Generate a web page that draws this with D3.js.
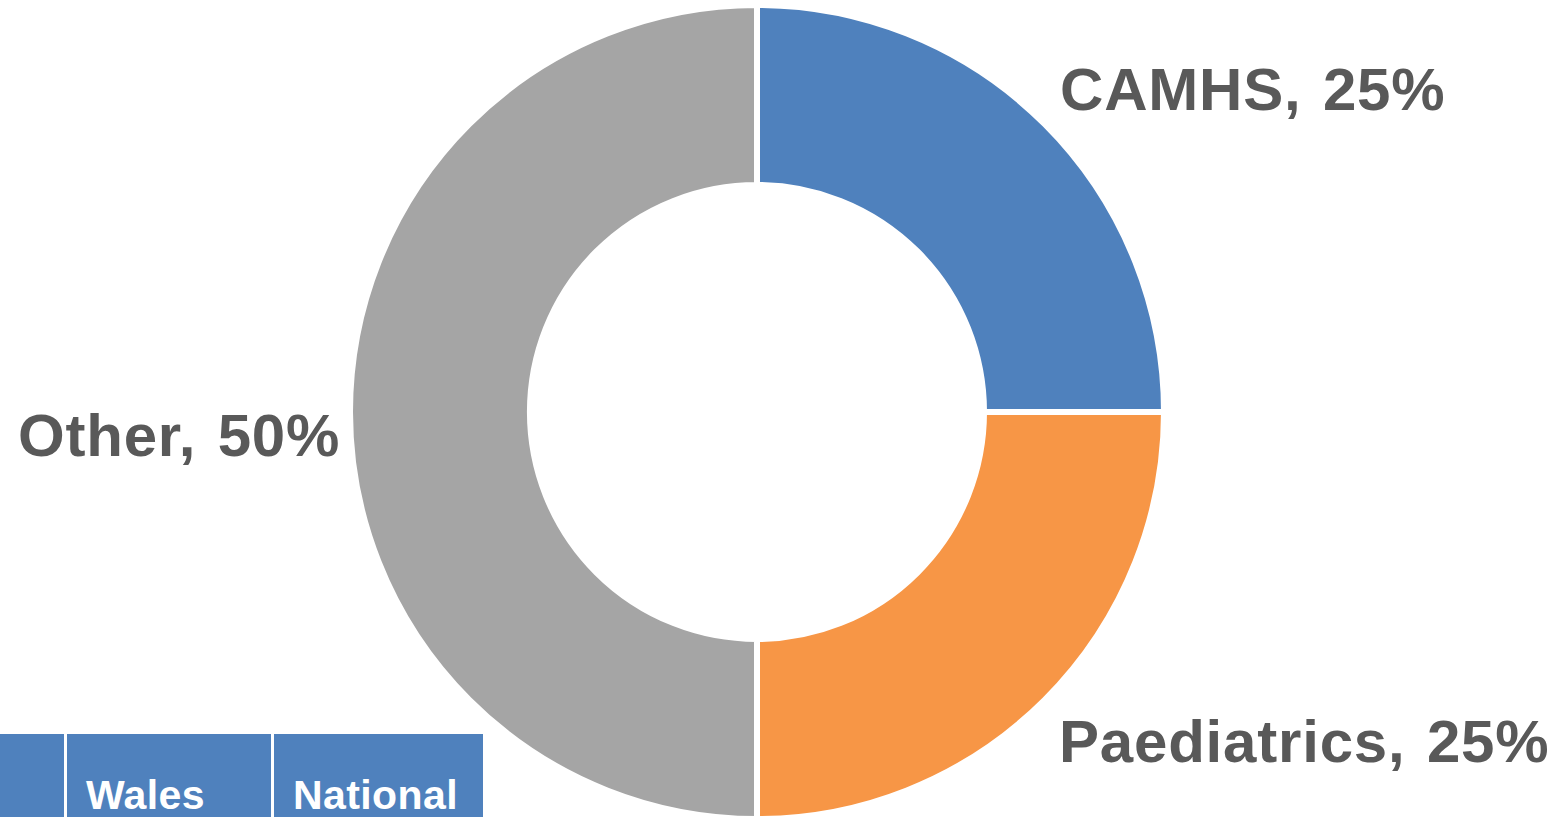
<!DOCTYPE html>
<html>
<head>
<meta charset="utf-8">
<script src="https://cdn.jsdelivr.net/npm/d3@7"></script>
<style>
  html, body { margin: 0; padding: 0; background: #fff; overflow: hidden; }
  svg { display: block; }
</style>
</head>
<body>
<svg id="chart" width="1562" height="817"></svg>
<script>
// Referral share by service
const categories = ["CAMHS", "Paediatrics", "Other"];
const shares = [25, 25, 50];
const sliceColors = ["#4F81BD", "#F79646", "#A5A5A5"];

// Header row of the comparison table below the chart
const tableHeaders = ["", "Wales", "National"];

const svg = d3.select("#chart");
const W = 1562, H = 817;

// Table header strip (partly cropped by the bottom edge)
const colScale = d3.scaleOrdinal()
  .domain(tableHeaders.map((d, i) => i))
  .range([[0, 64], [67, 271], [274, 483]]);

const header = svg.append("g").attr("class", "table-header");
header.selectAll("rect")
  .data(tableHeaders)
  .join("rect")
  .attr("x", (d, i) => colScale(i)[0])
  .attr("y", 734)
  .attr("width", (d, i) => colScale(i)[1] - colScale(i)[0])
  .attr("height", H - 734)
  .attr("fill", "#4F81BD");
header.selectAll("text")
  .data(tableHeaders)
  .join("text")
  .attr("x", (d, i) => colScale(i)[0] + 19)
  .attr("y", 809)
  .attr("fill", "#fff")
  .attr("font-family", "'Liberation Sans', Arial, sans-serif")
  .attr("font-weight", "bold")
  .attr("font-size", 41)
  .attr("letter-spacing", 0.4)
  .text(d => d);

// Doughnut
const cx = 757, cy = 412;
const pie = d3.pie().sort(null).value(d => d.value);
const arc = d3.arc().innerRadius(227).outerRadius(407);
const data = categories.map((c, i) => ({ name: c, value: shares[i], color: sliceColors[i] }));

const g = svg.append("g").attr("transform", `translate(${cx},${cy})`);
g.selectAll("path")
  .data(pie(data))
  .join("path")
  .attr("d", arc)
  .attr("fill", d => d.data.color)
  .attr("stroke", "#fff")
  .attr("stroke-width", 6)
  .attr("stroke-linejoin", "miter");

// Data labels
const labelPos = {
  CAMHS: { x: 1060, y: 110 },
  Paediatrics: { x: 1059, y: 762 },
  Other: { x: 18, y: 456 }
};
svg.append("g").selectAll("text")
  .data(data)
  .join("text")
  .attr("x", d => labelPos[d.name].x)
  .attr("y", d => labelPos[d.name].y)
  .attr("fill", "#595959")
  .attr("font-family", "'Liberation Sans', Arial, sans-serif")
  .attr("font-weight", "bold")
  .attr("font-size", 60)
  .attr("letter-spacing", 0.8)
  .attr("word-spacing", 4)
  .text(d => `${d.name}, ${d3.format("d")(d.value)}%`);
</script>
</body>
</html>
